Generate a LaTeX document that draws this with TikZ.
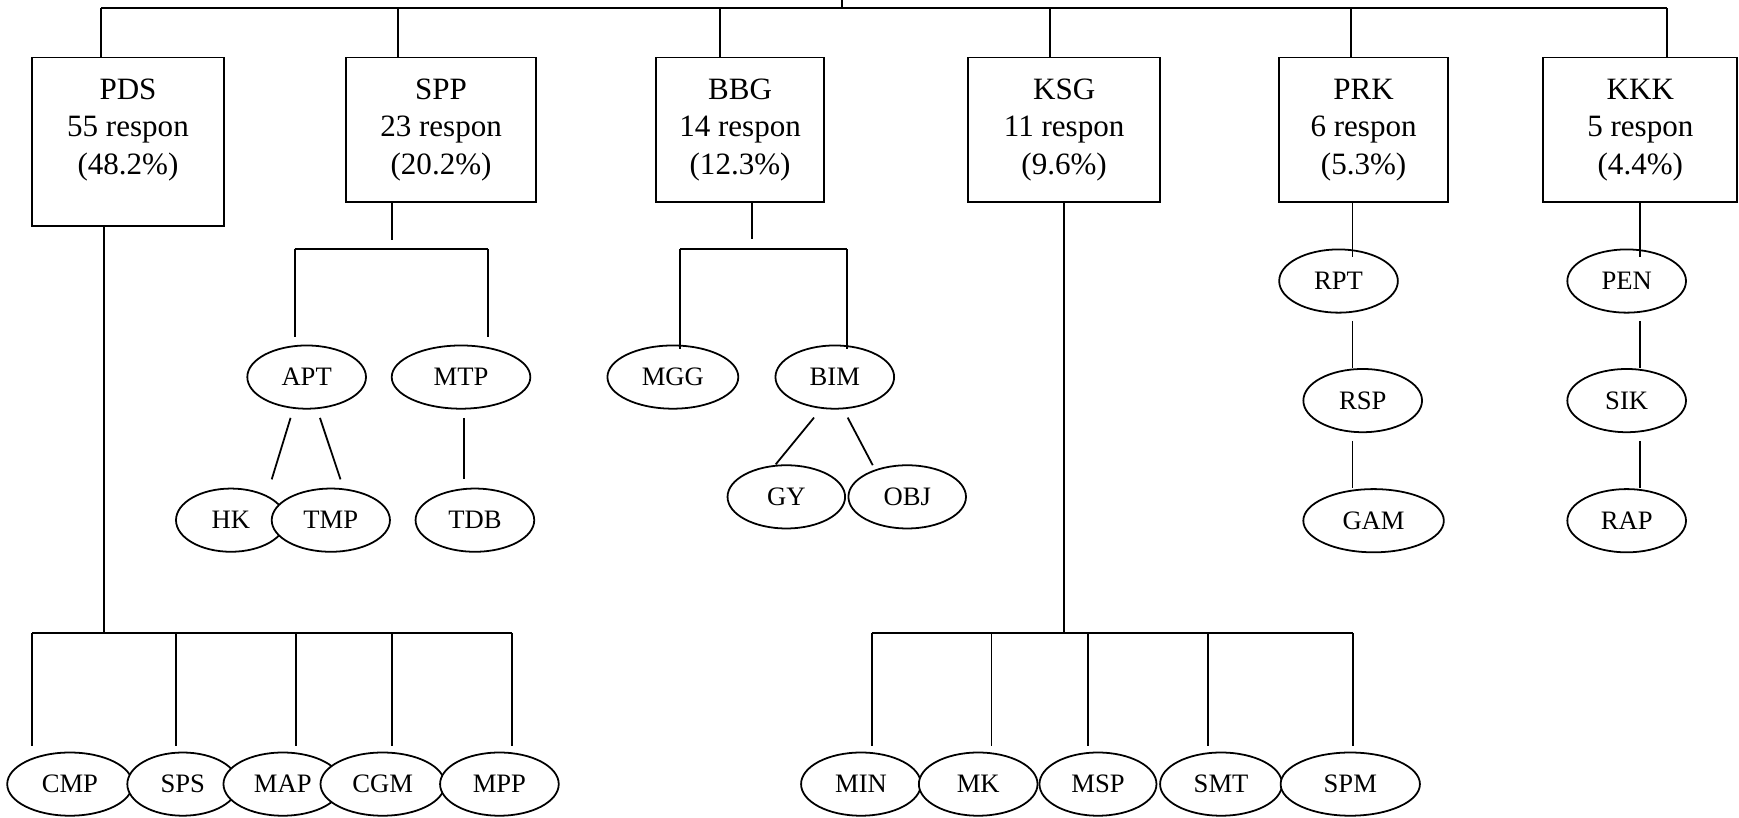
\documentclass[tikz,border=0pt]{standalone}
\usepackage{fontspec}
\setmainfont{Liberation Serif}
\usetikzlibrary{shapes.geometric,calc}
\newcommand{\boxtxt}[3]{\begin{tabular}{@{}c@{}}#1\\#2\\#3\end{tabular}}
\begin{document}
\begin{tikzpicture}[x=1pt,y=-1pt,
  conn/.style={line width=1.6pt},
  box/.style={draw,rectangle,line width=1.6pt,inner sep=0pt,anchor=north,minimum height=130pt,font=\fontsize{28}{33.5}\selectfont},
  oval/.style={draw,ellipse,fill=white,line width=1.6pt,inner sep=0pt,minimum height=57pt,minimum width=107pt,font=\fontsize{24}{28}\selectfont}]
\useasboundingbox (0,0) rectangle (1568,737);

% ---------- boxes ----------
\node[box,minimum width=173.3pt,minimum height=152pt] (PDS) at (115.4,51) {\begin{tabular}{@{}c@{}}PDS\\55 respon\\(48.2\%)\\[22pt]\end{tabular}};
\node[box,minimum width=170.8pt] (SPP) at (397.7,51) {\boxtxt{SPP}{23 respon}{(20.2\%)}};
\node[box,minimum width=151.2pt] (BBG) at (667.3,51) {\boxtxt{BBG}{14 respon}{(12.3\%)}};
\node[box,minimum width=173pt] (KSG) at (959.5,51) {\boxtxt{KSG}{11 respon}{(9.6\%)}};
\node[box,minimum width=152pt] (PRK) at (1229.5,51) {\boxtxt{PRK}{6 respon}{(5.3\%)}};
\node[box,minimum width=175pt] (KKK) at (1479,51) {\boxtxt{KKK}{5 respon}{(4.4\%)}};

% ---------- SPP children ----------
\node[oval] (APT) at (276.5,340) {APT};
\node[oval,minimum width=125pt] (MTP) at (415.7,340) {MTP};
\node[oval,minimum width=99pt] (HK) at (208.2,469) {HK};
\node[oval,minimum width=106.6pt] (TMP) at (298.3,469) {TMP};
\node[oval] (TDB) at (428.2,469) {TDB};

% ---------- BBG children ----------
\node[oval,minimum width=118pt] (MGG) at (606.7,340) {MGG};
\node[oval] (BIM) at (752.7,340) {BIM};
\node[oval,minimum width=106pt] (GY) at (709,448) {GY};
\node[oval,minimum width=106pt] (OBJ) at (818,448) {OBJ};

% ---------- PRK children ----------
\node[oval] (RPT) at (1206.9,253.4) {RPT};
\node[oval] (RSP) at (1228.7,361.2) {RSP};
\node[oval,minimum width=126.7pt] (GAM) at (1238.5,469.5) {GAM};

% ---------- KKK children ----------
\node[oval] (PEN) at (1466.7,253.4) {PEN};
\node[oval] (SIK) at (1466.7,361.2) {SIK};
\node[oval] (RAP) at (1466.7,469.5) {RAP};

% ---------- PDS children ----------
\node[oval,minimum width=113pt] (CMP) at (63,707) {CMP};
\node[oval,minimum width=100pt] (SPS) at (164.8,707) {SPS};
\node[oval] (MAP) at (255,707) {MAP};
\node[oval,minimum width=112pt] (CGM) at (345,707) {CGM};
\node[oval] (MPP) at (450.3,707) {MPP};

% ---------- KSG children ----------
\node[oval,minimum width=108pt] (MIN) at (776.3,707) {MIN};
\node[oval] (MK) at (882,707) {MK};
\node[oval,minimum width=105.5pt] (MSP) at (990,707) {MSP};
\node[oval,minimum width=110pt] (SMT) at (1101,707) {SMT};
\node[oval,minimum width=125.6pt] (SPM) at (1217.5,707) {SPM};

% ---------- top bus ----------
\coordinate (topStub) at (759,0);
\coordinate (topMid) at (759,7.5);
\coordinate (busL) at (91,7.5);
\coordinate (busR) at (1503,7.5);
\coordinate (tSPP) at (359,7.5);
\coordinate (tBBG) at (649,7.5);
\coordinate (tKSG) at (946.5,7.5);
\coordinate (tPRK) at (1218,7.5);
\draw[conn] (topStub) -- (topMid);
\draw[conn] (busL) -- (busR);
\draw[conn] (busL) -- (busL |- PDS.north);
\draw[conn] (tSPP) -- (tSPP |- SPP.north);
\draw[conn] (tBBG) -- (tBBG |- BBG.north);
\draw[conn] (tKSG) -- (tKSG |- KSG.north);
\draw[conn] (tPRK) -- (tPRK |- PRK.north);
\draw[conn] (busR) -- (busR |- KKK.north);

% ---------- PDS subtree ----------
\coordinate (pB) at (93.5,570.5);
\coordinate (pL) at (29.2,570.5);
\coordinate (p2) at (158.7,570.5);
\coordinate (p3) at (267,570.5);
\coordinate (p4) at (353.7,570.5);
\coordinate (pR) at (461.7,570.5);
\draw[conn] (pB |- PDS.south) -- (pB);
\draw[conn] (pL) -- (pR);
\draw[conn] (pL) -- ($(pL |- CMP.north)+(0,-5)$);
\draw[conn] (p2) -- ($(p2 |- SPS.north)+(0,-5)$);
\draw[conn] (p3) -- ($(p3 |- MAP.north)+(0,-5)$);
\draw[conn] (p4) -- ($(p4 |- CGM.north)+(0,-5)$);
\draw[conn] (pR) -- ($(pR |- MPP.north)+(0,-5)$);

% ---------- KSG subtree ----------
\coordinate (kB) at (959.5,571);
\coordinate (kL) at (786,571);
\coordinate (k2) at (894,571);
\coordinate (k3) at (980.7,571);
\coordinate (k4) at (1089,571);
\coordinate (kR) at (1219.6,571);
\draw[conn] (kB |- KSG.south) -- (kB);
\draw[conn] (kL) -- (kR);
\draw[conn] (kL) -- ($(kL |- MIN.north)+(0,-5)$);
\draw[conn] (k2) -- ($(k2 |- MK.north)+(0,-5)$);
\draw[conn] (k3) -- ($(k3 |- MSP.north)+(0,-5)$);
\draw[conn] (k4) -- ($(k4 |- SMT.north)+(0,-5)$);
\draw[conn] (kR) -- ($(kR |- SPM.north)+(0,-5)$);

% ---------- SPP subtree ----------
\coordinate (sS) at (353.7,216.4);
\coordinate (sL) at (265.7,224.5);
\coordinate (sR) at (440,224.5);
\draw[conn] (sS |- SPP.south) -- (sS);
\draw[conn] (sL) -- (sR);
\draw[conn] (sL) -- ($(sL |- APT.north)+(0,-6.5)$);
\draw[conn] (sR) -- ($(sR |- MTP.north)+(0,-6.5)$);
\draw[conn] ([xshift=-14.5pt,yshift=-7.5pt]APT.south) -- ([xshift=36.8pt,yshift=7.5pt]HK.north);
\draw[conn] ([xshift=12pt,yshift=-7.5pt]APT.south) -- ([xshift=8.7pt,yshift=7.5pt]TMP.north);
\draw[conn] ([xshift=2.7pt,yshift=-7.5pt]MTP.south) -- ([xshift=-9.8pt,yshift=7.5pt]TDB.north);

% ---------- BBG subtree ----------
\coordinate (bS) at (678.3,215.6);
\coordinate (bL) at (613,224.7);
\coordinate (bR) at (764,224.7);
\draw[conn] (bS |- BBG.south) -- (bS);
\draw[conn] (bL) -- (bR);
\draw[conn] (bL) -- ($(bL |- MGG.north)+(0,4.1)$);
\draw[conn] (bR) -- ($(bR |- BIM.north)+(0,4.1)$);
\draw[conn] ([xshift=-18.7pt,yshift=-7.2pt]BIM.south) -- ([xshift=-9.6pt]GY.north);
\draw[conn] ([xshift=11.6pt,yshift=-7.2pt]BIM.south) -- ([xshift=-31.1pt,yshift=-0.7pt]OBJ.north);

% ---------- PRK subtree ----------
\coordinate (rx) at (1219.4,231.4);
\draw[conn] (rx |- PRK.south) -- (rx);
\draw[conn] ($(rx |- RPT.south)+(0,6.6)$) -- (rx |- RSP.north);
\draw[conn] ($(rx |- RSP.south)+(0,7)$) -- (rx |- GAM.north);

% ---------- KKK subtree ----------
\coordinate (qx) at (1479,231.4);
\draw[conn] (qx |- KKK.south) -- (qx);
\draw[conn] ($(qx |- PEN.south)+(0,6.6)$) -- (qx |- SIK.north);
\draw[conn] ($(qx |- SIK.south)+(0,7)$) -- (qx |- RAP.north);
\end{tikzpicture}
\end{document}
